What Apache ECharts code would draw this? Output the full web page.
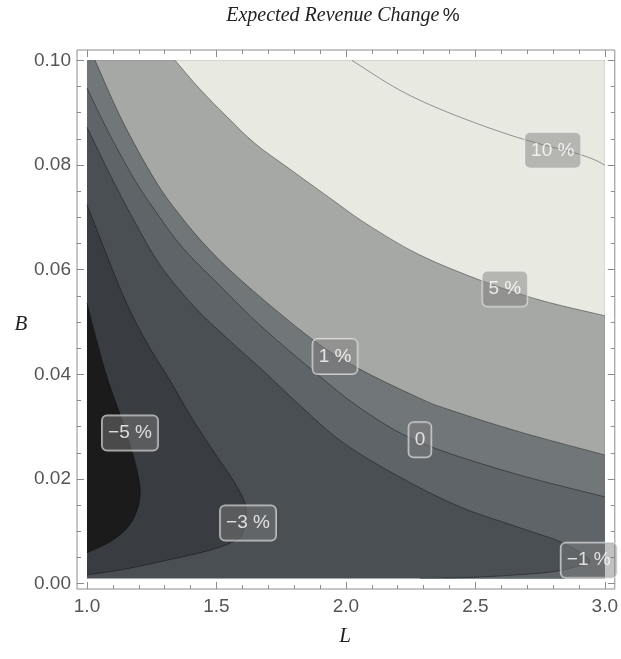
<!DOCTYPE html>
<html><head><meta charset="utf-8">
<script src="https://cdn.jsdelivr.net/npm/echarts@6/dist/echarts.min.js"></script>
<style>html,body{margin:0;padding:0;background:#fff}#c{width:621px;height:659px}</style>
</head><body><div id="c"></div>
<script>
// ---- data ----
const xTicks = [1.0, 1.5, 2.0, 2.5, 3.0];
const xMinorTicks = [1.1,1.2,1.3,1.4,1.6,1.7,1.8,1.9,2.1,2.2,2.3,2.4,2.6,2.7,2.8,2.9];
const yTicks = [0, 0.02, 0.04, 0.06, 0.08, 0.10];
const yMinorTicks = [0.005,0.01,0.015,0.025,0.03,0.035,0.045,0.05,0.055,0.065,0.07,0.075,0.085,0.09,0.095];

// plotted domain (L, B)
const domainL = [1, 3];
const domainB = [0.001, 0.1];

// contour lines as [L, B] points
const contour10 = [[2.023,0.1],[2.208,0.0943],[2.402,0.0899],[2.660,0.0853],[2.911,0.0819],[3.0,0.0800]];
const contour5 = [[1.340,0.1],[1.436,0.0945],[1.541,0.0892],[1.649,0.0841],[1.784,0.0792],[1.938,0.0737],[2.081,0.0687],[2.286,0.0628],[2.529,0.0578],[2.749,0.0542],[3.0,0.0512]];
const contour1 = [[1.031,0.1],[1.139,0.0882],[1.263,0.0771],[1.359,0.0704],[1.475,0.0637],[1.629,0.0565],[1.873,0.0466],[2.046,0.0412],[2.282,0.0355],[2.402,0.0332],[2.672,0.0290],[3.0,0.0246]];
const contour0 = [[1.0,0.0947],[1.089,0.0857],[1.185,0.0771],[1.270,0.0708],[1.371,0.0641],[1.514,0.0569],[1.668,0.0494],[1.861,0.0412],[2.054,0.0336],[2.282,0.0271],[2.633,0.0213],[3.0,0.0166]];
const contourM1 = [[1.0,0.0872],[1.100,0.0771],[1.185,0.0691],[1.282,0.0609],[1.409,0.0532],[1.541,0.0469],[1.687,0.0404],[1.822,0.0341],[1.988,0.0270],[2.208,0.0204],[2.440,0.0147],[2.672,0.0107],[2.838,0.0078],[2.942,0.0045],[2.884,0.0032],[2.788,0.0022],[2.633,0.0016],[2.479,0.0012],[2.286,0.0010]];
const contourM3 = [[1.0,0.0724],[1.069,0.0637],[1.147,0.0542],[1.236,0.0456],[1.320,0.0389],[1.398,0.0322],[1.486,0.0255],[1.564,0.0198],[1.610,0.0154],[1.614,0.0122],[1.602,0.0099],[1.579,0.0084],[1.475,0.0064],[1.282,0.0042],[1.127,0.0026],[1.0,0.0017]];
const contourM5 = [[1.0,0.0536],[1.042,0.0456],[1.081,0.0389],[1.135,0.0313],[1.178,0.0246],[1.201,0.0198],[1.205,0.0169],[1.193,0.0140],[1.158,0.0108],[1.089,0.0080],[1.0,0.0059]];

// contour labels [L, B, text]
const contourLabels = [
  [2.799, 0.0828, '10 %'],
  [2.614, 0.0563, '5 %'],
  [1.958, 0.0434, '1 %'],
  [2.286, 0.0275, '0'],
  [2.938, 0.0045, '\u22121 %'],
  [1.622, 0.0116, '\u22123 %'],
  [1.166, 0.0288, '\u22125 %']
];

// ---- layout / style ----
const X_MIN = 0.9614, X_MAX = 3.0386, Y_MIN = -0.00101, Y_MAX = 0.10197;
const [L0, L1] = domainL, [B0, B1] = domainB;
const regions = [
  { curve: [], corners: [[L0,B0],[L1,B0],[L1,B1],[L0,B1]], color: '#4a4f54' },
  { curve: contourM3, corners: [], color: '#393c40' },
  { curve: contourM5, corners: [], color: '#1b1b1c' },
  { curve: contourM1, corners: [[L1,B0],[L1,B1],[L0,B1]], color: '#5f6469' },
  { curve: contour0, corners: [[L1,B1],[L0,B1]], color: '#717679' },
  { curve: contour1, corners: [[L1,B1]], color: '#a5a8a4' },
  { curve: contour5, corners: [[L1,B1]], color: '#e8e9e1' }
];
const contourLines = [contour10, contour5, contour1, contour0, contourM1, contourM3, contourM5];

// Catmull-Rom style smooth path through pixel points
function smoothPath(pts) {
  if (!pts.length) return '';
  let d = 'M' + pts[0][0] + ',' + pts[0][1];
  for (let i = 0; i < pts.length - 1; i++) {
    const p0 = pts[i - 1] || pts[i], p1 = pts[i], p2 = pts[i + 1], p3 = pts[i + 2] || pts[i + 1];
    const c1 = [p1[0] + (p2[0] - p0[0]) / 6, p1[1] + (p2[1] - p0[1]) / 6];
    const c2 = [p2[0] - (p3[0] - p1[0]) / 6, p2[1] - (p3[1] - p1[1]) / 6];
    d += ' C' + c1[0] + ',' + c1[1] + ' ' + c2[0] + ',' + c2[1] + ' ' + p2[0] + ',' + p2[1];
  }
  return d;
}
function regionPath(r, api) {
  const cp = r.curve.map(p => api.coord(p));
  const kp = r.corners.map(p => api.coord(p));
  let d = smoothPath(cp);
  kp.forEach(p => { d += (d === '' ? 'M' : ' L') + p[0] + ',' + p[1]; });
  return d + ' Z';
}

const tickColor = '#8c8c8c', labColor = '#555';
const labFont = 'Liberation Sans, Arial, sans-serif';
function xAx(pos, vals, len, lab) {
  return { type:'value', min:X_MIN, max:X_MAX, position:pos,
    axisLine:{show:false, onZero:false}, splitLine:{show:false},
    axisTick:{show:true, inside:true, length:len, customValues:vals, lineStyle:{color:tickColor, width:1}},
    axisLabel:{show:lab, customValues:vals, formatter:v=>v.toFixed(1), color:labColor, fontSize:19, fontFamily:labFont, margin:8} };
}
function yAx(pos, vals, len, lab) {
  return { type:'value', min:Y_MIN, max:Y_MAX, position:pos,
    axisLine:{show:false, onZero:false}, splitLine:{show:false},
    axisTick:{show:true, inside:true, length:len, customValues:vals, lineStyle:{color:tickColor, width:1}},
    axisLabel:{show:lab, customValues:vals, formatter:v=>v.toFixed(2), color:labColor, fontSize:19, fontFamily:labFont, margin:6} };
}

const chart = echarts.init(document.getElementById('c'), null, {renderer:'canvas'});
chart.setOption({
  animation:false,
  backgroundColor:'#fff',
  grid:{left:77, right:6, top:50, bottom:70, show:true, borderColor:'#8c8c8c', borderWidth:1, containLabel:false},
  xAxis:[xAx('bottom', xTicks, 7, true), xAx('bottom', xMinorTicks, 4, false), xAx('top', xTicks, 7, false), xAx('top', xMinorTicks, 4, false)],
  yAxis:[yAx('left', yTicks, 7, true), yAx('left', yMinorTicks, 4, false), yAx('right', yTicks, 7, false), yAx('right', yMinorTicks, 4, false)],
  graphic:[
    { type:'text', x:343, y:16, style:{ text:'{a|Expected Revenue Change} {b|%}', align:'center', verticalAlign:'middle',
      rich:{ a:{fontFamily:'Liberation Serif, serif', fontStyle:'italic', fontSize:20, fill:'#222'}, b:{fontFamily:'Liberation Sans, sans-serif', fontSize:19, fill:'#222'} } } },
    { type:'text', x:21, y:324, style:{ text:'B', align:'center', verticalAlign:'middle', fontFamily:'Liberation Serif, serif', fontStyle:'italic', fontSize:21, fill:'#222' } },
    { type:'text', x:345, y:636, style:{ text:'L', align:'center', verticalAlign:'middle', fontFamily:'Liberation Serif, serif', fontStyle:'italic', fontSize:21, fill:'#222' } }
  ],
  series:[
    { type:'custom', silent:true, z:2, data: regions.map((r,i)=>[2, 0.05, i]),
      renderItem:(params, api) => {
        const r = regions[params.dataIndex];
        return { type:'path', shape:{ pathData: regionPath(r, api) }, style:{ fill:r.color, stroke:null } };
      } },
    { type:'custom', silent:true, z:5, data: contourLines.map((c,i)=>[2, 0.05, i]),
      renderItem:(params, api) => {
        const c = contourLines[params.dataIndex];
        return { type:'path', shape:{ pathData: smoothPath(c.map(p => api.coord(p))) },
          style:{ fill:'none', stroke:'rgba(0,0,0,0.42)', lineWidth:0.9 } };
      } },
    { type:'scatter', z:10, symbolSize:0, silent:true, data: contourLabels.map(d => [d[0], d[1], d[2]]),
      label:{ show:true, position:'inside', formatter:p => p.data[2], color:'#fff', fontSize:19,
        fontFamily:labFont, backgroundColor:'rgba(126,126,126,0.6)',
        borderColor:'rgba(235,235,235,0.9)', borderWidth:1, borderRadius:5, padding:[8,6,7,6], lineHeight:20 } }
  ]
});
</script></body></html>
